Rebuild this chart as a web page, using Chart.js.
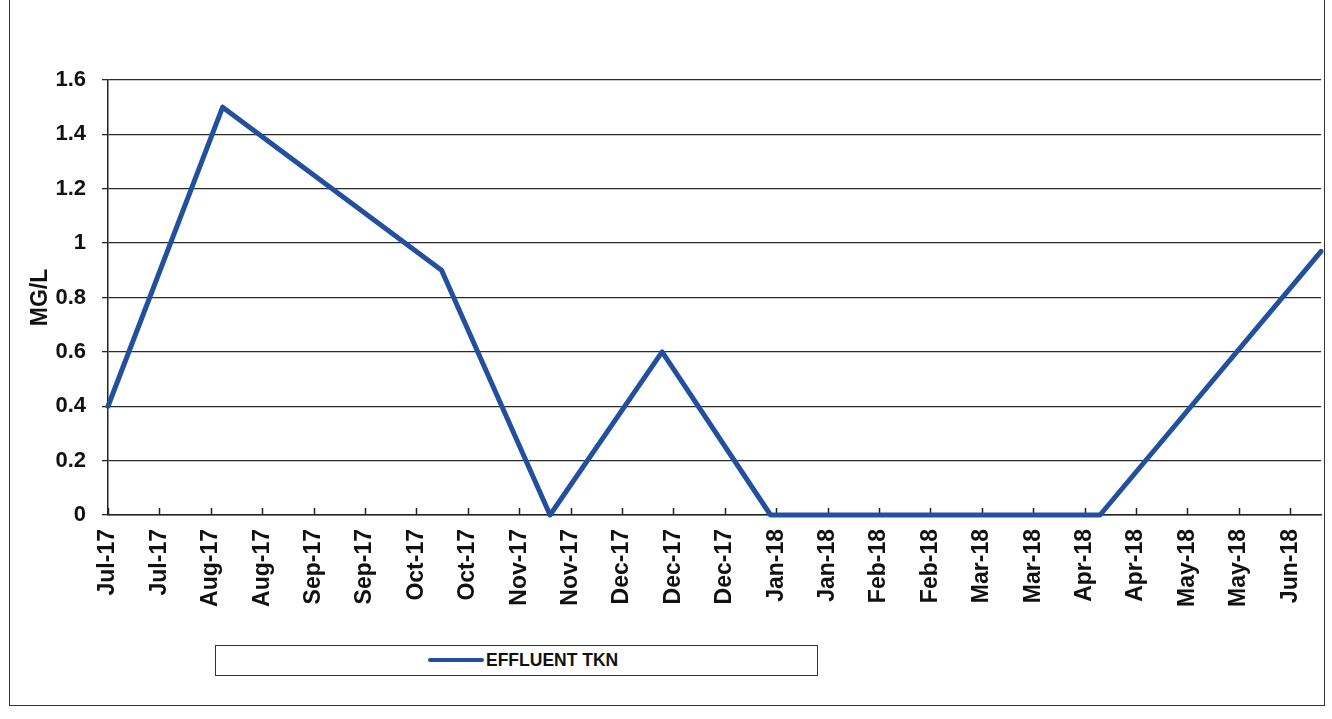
<!DOCTYPE html>
<html>
<head>
<meta charset="utf-8">
<title>Effluent TKN</title>
<script src="https://cdn.jsdelivr.net/npm/chart.js@4.4.1/dist/chart.umd.min.js"></script>
<style>
  html, body { margin: 0; padding: 0; background: #fff; }
  #wrap { position: relative; width: 1332px; height: 719px; overflow: hidden; }
  #frame {
    position: absolute; left: 9px; top: -3px; width: 1316px; height: 709px;
    border: 1.5px solid #333; box-sizing: border-box; pointer-events: none;
  }
  #legend {
    position: absolute; left: 215px; top: 645px; width: 603px; height: 31px;
    border: 1.5px solid #333; box-sizing: border-box; background: #fff;
    font: bold 17.5px 'Liberation Sans', Arial, sans-serif; color: #111;
  }
  #legend .swatch {
    position: absolute; left: 212px; top: 12px; width: 56px; height: 4px;
    border-radius: 2px; background: #23509e;
  }
  #legend .label { position: absolute; left: 270px; top: 4px; white-space: nowrap; }
  canvas { position: absolute; left: 0; top: 0; }
</style>
</head>
<body>
<div id="wrap">
  <canvas id="chart" width="1332" height="719"></canvas>
  <div id="frame"></div>
  <div id="legend"><span class="swatch"></span><span class="label">EFFLUENT TKN</span></div>
</div>
<script>
// Tick labels along the date axis (one every half month or so)
const tickLabels = [
  'Jul-17', 'Jul-17', 'Aug-17', 'Aug-17', 'Sep-17', 'Sep-17', 'Oct-17', 'Oct-17',
  'Nov-17', 'Nov-17', 'Dec-17', 'Dec-17', 'Dec-17', 'Jan-18', 'Jan-18', 'Feb-18',
  'Feb-18', 'Mar-18', 'Mar-18', 'Apr-18', 'Apr-18', 'May-18', 'May-18', 'Jun-18'
];

// Sample positions, measured in tick slots from the first label
const sampleX = [0, 2.23, 6.49, 8.6, 10.78, 12.89, 19.3, 23.6];
// Effluent TKN, mg/L
const tknValues = [0.4, 1.5, 0.9, 0, 0.6, 0, 0, 0.97];

const yTicks = [0, 0.2, 0.4, 0.6, 0.8, 1, 1.2, 1.4, 1.6];

const FONT = "'Liberation Sans', Arial, sans-serif";

// Excel-style tick marks pointing up into the plot
const innerTicks = {
  id: 'innerTicks',
  beforeDatasetsDraw(chart) {
    const x = chart.scales.x;
    const ctx = chart.ctx;
    ctx.save();
    ctx.strokeStyle = '#222';
    ctx.lineWidth = 1.5;
    x.ticks.forEach(t => {
      const px = Math.round(x.getPixelForValue(t.value)) + 0.5;
      ctx.beginPath();
      ctx.moveTo(px, x.top);
      ctx.lineTo(px, x.top - 7);
      ctx.stroke();
    });
    ctx.restore();
  }
};

new Chart(document.getElementById('chart').getContext('2d'), {
  type: 'line',
  data: {
    datasets: [{
      label: 'EFFLUENT TKN',
      data: sampleX.map((x, i) => ({ x, y: tknValues[i] })),
      borderColor: '#23509e',
      backgroundColor: '#23509e',
      borderWidth: 5,
      borderJoinStyle: 'round',
      borderCapStyle: 'round',
      pointRadius: 0,
      tension: 0,
      clip: false,
    }],
  },
  options: {
    responsive: false,
    animation: false,
    layout: { padding: { left: 0, top: 80, right: 7, bottom: 0 } },
    plugins: {
      legend: { display: false },
      tooltip: { enabled: false },
    },
    scales: {
      x: {
        type: 'linear',
        min: 0,
        max: sampleX[sampleX.length - 1],
        afterBuildTicks(scale) {
          scale.ticks = tickLabels.map((_, i) => ({ value: i }));
        },
        afterFit(scale) { scale.height = 204; },
        ticks: {
          autoSkip: false,
          minRotation: 90,
          maxRotation: 90,
          padding: 14,
          color: '#111',
          font: { family: FONT, size: 23, weight: 'bold' },
          callback: (v) => tickLabels[v],
        },
        grid: { display: false, drawTicks: false },
        border: { display: true, color: '#222', width: 1.5 },
      },
      y: {
        min: 0,
        max: 1.6,
        afterBuildTicks(scale) {
          scale.ticks = yTicks.map(v => ({ value: v }));
        },
        afterFit(scale) { scale.width = 108; },
        title: {
          display: true,
          text: 'MG/L',
          color: '#111',
          padding: { top: 27, bottom: 0 },
          font: { family: FONT, size: 23, weight: 'bold' },
        },
        ticks: {
          padding: 16,
          color: '#111',
          font: { family: FONT, size: 22, weight: 'bold' },
          callback: (v) => String(+v.toFixed(1)),
        },
        grid: { color: '#2a2a2a', lineWidth: 1.3, tickLength: 6, drawTicks: true },
        border: { display: true, color: '#222', width: 1.5 },
      },
    },
  },
  plugins: [innerTicks],
});
</script>
</body>
</html>
